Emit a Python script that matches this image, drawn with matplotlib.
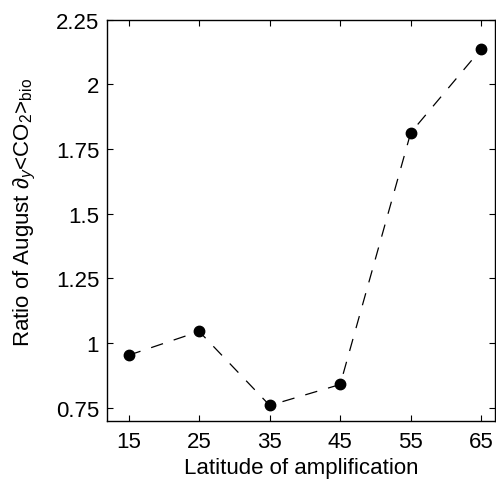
import matplotlib
matplotlib.use("Agg")
import matplotlib.pyplot as plt

# values
latitude = [15, 25, 35, 45, 55, 65]
ratio = [0.953, 1.045, 0.759, 0.840, 1.813, 2.137]
xticks = [15, 25, 35, 45, 55, 65]
yticks = [0.75, 1, 1.25, 1.5, 1.75, 2, 2.25]
yticklabels = ["0.75", "1", "1.25", "1.5", "1.75", "2", "2.25"]

plt.rcParams["font.family"] = ["Liberation Sans", "DejaVu Sans"]
plt.rcParams["mathtext.fontset"] = "custom"
plt.rcParams["mathtext.rm"] = "Liberation Sans"
plt.rcParams["mathtext.it"] = "Liberation Sans:italic"

fig = plt.figure(figsize=(4.96, 4.81), dpi=100)
ax = fig.add_axes([0.2167, 0.1233, 0.782, 0.8337])

ax.plot(latitude, ratio, color="black", linestyle=(0, (10, 9)), linewidth=0.9,
        marker="o", markersize=7.5, markerfacecolor="black", markeredgecolor="black")

ax.set_xlim(12, 67)
ax.set_ylim(0.7, 2.25)
ax.set_xticks(xticks)
ax.set_yticks(yticks)
ax.set_yticklabels(yticklabels)
ax.tick_params(direction="in", top=True, right=True, length=4, width=0.8,
               labelsize=16, pad=6)
ax.tick_params(axis="x", pad=7.5)
for s in ax.spines.values():
    s.set_linewidth(1.0)

ax.set_xlabel("Latitude of amplification", fontsize=16, labelpad=3.5)
ax.set_ylabel(r"Ratio of August $\partial_y$<CO$_2$>$_{\rm bio}$", fontsize=16)
ax.yaxis.set_label_coords(-0.178, 0.522)

fig.savefig("out.png", dpi=100)
